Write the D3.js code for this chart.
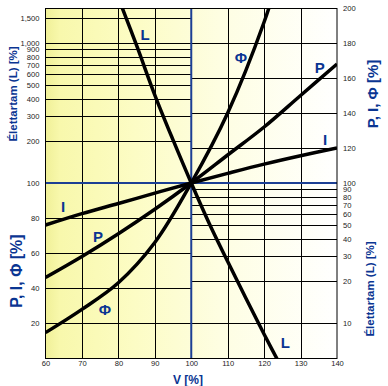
<!DOCTYPE html>
<html>
<head>
<meta charset="utf-8">
<script src="https://cdn.jsdelivr.net/npm/d3@7"></script>
<style>
  body { margin: 0; background: #fff; }
  svg { display: block; }
  .tick text { font-family: "Liberation Sans", Arial, sans-serif; font-size: 7.6px; fill: #222; }
  .ttl { font-family: "Liberation Sans", Arial, sans-serif; font-weight: bold; fill: #0a3592; }
</style>
</head>
<body>
<div id="chart"></div>
<script>
// voltage in percent
var volts = [60, 70, 80, 90, 100, 110, 120, 130, 140];
var current = [76, 82.5, 88.3, 94.2, 100, 105.5, 110.8, 115.6, 120];   // I
var power = [46, 58, 71, 85, 100, 116, 132, 150, 168];                 // P
var fluxVolts = [60, 70, 80, 90, 100, 110, 120, 125];
var flux = [14.5, 27.8, 43, 66, 100, 140, 192, 225];                   // Phi
var lifeVolts = [78, 80, 85, 90, 95, 100, 105, 110, 115, 120, 125];
var life = [2900, 2100, 960, 425, 203, 100, 51, 27.5, 15, 8.3, 4.7];   // L

var xTicks = [60, 70, 80, 90, 100, 110, 120, 130, 140];
var leftLogTicks = [100, 200, 300, 400, 500, 600, 700, 800, 900, 1000, 1500];
var leftLinTicks = [20, 40, 60, 80];
var rightLinTicks = [100, 120, 140, 160, 180, 200];
var rightLogTicks = [10, 20, 30, 40, 50, 60, 70, 80, 90];

// curve label anchors [V, P/I/Phi scale value, text]
var curveLabels = [
  [87.3, 184.6, "L"], [125.8, 8.6, "L"],
  [113.6, 171.4, "Φ"], [76.3, 27.4, "Φ"],
  [135.3, 165.7, "P"], [74.4, 69.1, "P"],
  [136.7, 124.6, "I"], [64.8, 86.3, "I"]
];

var W = 388, H = 386;
var pLeft = 45.5, pRight = 337, pTop = 8, pBottom = 358;
var blue = "#1c3f94";

var svg = d3.select("#chart").append("svg")
  .attr("width", W).attr("height", H);

var x = d3.scaleLinear().domain([60, 140]).range([pLeft, pRight]);
var yLin = d3.scaleLinear().domain([0, 200]).range([pBottom, pTop]);
var yLog = d3.scaleLog().domain([Math.pow(10, 0.75), Math.pow(10, 3.25)]).range([pBottom, pTop]);

// background gradient
var defs = svg.append("defs");
var grad = defs.append("linearGradient").attr("id", "bg")
  .attr("x1", "0").attr("x2", "1").attr("y1", "0").attr("y2", "0");
grad.append("stop").attr("offset", "0").attr("stop-color", "#f0f098");
grad.append("stop").attr("offset", "0.05").attr("stop-color", "#f8f8ac");
grad.append("stop").attr("offset", "0.3").attr("stop-color", "#fcfcc4");
grad.append("stop").attr("offset", "0.6").attr("stop-color", "#fefee2");
grad.append("stop").attr("offset", "1").attr("stop-color", "#ffffff");
defs.append("clipPath").attr("id", "clip").append("rect")
  .attr("x", pLeft).attr("y", pTop).attr("width", pRight - pLeft).attr("height", pBottom - pTop);

svg.append("rect").attr("x", pLeft).attr("y", pTop)
  .attr("width", pRight - pLeft).attr("height", pBottom - pTop)
  .attr("fill", "url(#bg)");

var grid = svg.append("g").attr("stroke", "#000").attr("stroke-width", 1);
// vertical grid
grid.selectAll(".vx").data(xTicks.filter(function(d) { return d != 60 && d != 100 && d != 140; }))
  .enter().append("line")
  .attr("x1", function(d) { return Math.round(x(d)) + 0.5; })
  .attr("x2", function(d) { return Math.round(x(d)) + 0.5; })
  .attr("y1", pTop).attr("y2", pBottom);
// upper-left: log L lines
grid.selectAll(".ul").data(leftLogTicks.filter(function(d) { return d != 100; }))
  .enter().append("line")
  .attr("x1", pLeft).attr("x2", x(100))
  .attr("y1", function(d) { return Math.round(yLog(d)) + 0.5; })
  .attr("y2", function(d) { return Math.round(yLog(d)) + 0.5; });
// lower-left: linear
grid.selectAll(".ll").data(leftLinTicks)
  .enter().append("line")
  .attr("x1", pLeft).attr("x2", x(100))
  .attr("y1", function(d) { return Math.round(yLin(d)) + 0.5; })
  .attr("y2", function(d) { return Math.round(yLin(d)) + 0.5; });
// upper-right: linear
grid.selectAll(".ur").data(rightLinTicks.filter(function(d) { return d != 100 && d != 200; }))
  .enter().append("line")
  .attr("x1", x(100)).attr("x2", pRight)
  .attr("y1", function(d) { return Math.round(yLin(d)) + 0.5; })
  .attr("y2", function(d) { return Math.round(yLin(d)) + 0.5; });
// lower-right: log
grid.selectAll(".lr").data(rightLogTicks)
  .enter().append("line")
  .attr("x1", x(100)).attr("x2", pRight)
  .attr("y1", function(d) { return Math.round(yLog(d)) + 0.5; })
  .attr("y2", function(d) { return Math.round(yLog(d)) + 0.5; });

// blue reference lines
svg.append("line").attr("x1", x(100)).attr("x2", x(100)).attr("y1", pTop).attr("y2", pBottom)
  .attr("stroke", blue).attr("stroke-width", 2);
svg.append("line").attr("x1", pLeft).attr("x2", pRight).attr("y1", yLin(100)).attr("y2", yLin(100))
  .attr("stroke", blue).attr("stroke-width", 2);

// frame
svg.append("rect").attr("x", pLeft).attr("y", pTop + 0.5)
  .attr("width", pRight - pLeft).attr("height", pBottom - pTop)
  .attr("fill", "none").attr("stroke", "#000").attr("stroke-width", 1);

// curves
var curves = svg.append("g").attr("clip-path", "url(#clip)");
function linLine(xs) {
  return d3.line()
    .x(function(d, i) { return x(xs[i]); })
    .y(function(d) { return yLin(d); })
    .curve(d3.curveCatmullRom);
}
var lifeLine = d3.line()
  .x(function(d, i) { return x(lifeVolts[i]); })
  .y(function(d) { return yLog(d); })
  .curve(d3.curveCatmullRom);

[[current, volts], [power, volts], [flux, fluxVolts]].forEach(function(s) {
  curves.append("path").datum(s[0])
    .attr("fill", "none").attr("stroke", "#000").attr("stroke-width", 3.5)
    .attr("d", linLine(s[1]));
});
curves.append("path").datum(life)
  .attr("fill", "none").attr("stroke", "#000").attr("stroke-width", 3.5)
  .attr("d", lifeLine);

// curve labels
svg.selectAll(".cl").data(curveLabels).enter().append("text")
  .attr("class", "ttl")
  .attr("x", function(d) { return x(d[0]); })
  .attr("y", function(d) { return yLin(d[1]); })
  .attr("dy", "0.36em")
  .attr("text-anchor", "middle")
  .style("font-size", "15px")
  .text(function(d) { return d[2]; });

// axes
function clean(g) { g.select(".domain").remove(); }
svg.append("g").attr("transform", "translate(0," + pBottom + ")")
  .call(d3.axisBottom(x).tickValues(xTicks).tickSize(0).tickPadding(3).tickFormat(d3.format("d")))
  .call(clean);
svg.append("g").attr("transform", "translate(" + pLeft + ",0)")
  .call(d3.axisLeft(yLog).tickValues(leftLogTicks).tickSize(0).tickPadding(6).tickFormat(d3.format(",")))
  .call(clean);
svg.append("g").attr("transform", "translate(" + pLeft + ",0)")
  .call(d3.axisLeft(yLin).tickValues(leftLinTicks).tickSize(0).tickPadding(6).tickFormat(d3.format("d")))
  .call(clean);
svg.append("g").attr("transform", "translate(" + pRight + ",0)")
  .call(d3.axisRight(yLin).tickValues(rightLinTicks).tickSize(0).tickPadding(6).tickFormat(d3.format("d")))
  .call(clean);
svg.append("g").attr("transform", "translate(" + pRight + ",0)")
  .call(d3.axisRight(yLog).tickValues(rightLogTicks).tickSize(0).tickPadding(6).tickFormat(d3.format("d")))
  .call(clean);

// axis titles
function vtitle(cx, cy, size, txt) {
  svg.append("text").attr("class", "ttl")
    .attr("transform", "translate(" + cx + "," + cy + ") rotate(-90)")
    .attr("text-anchor", "middle").attr("dy", "0.36em")
    .style("font-size", size + "px").text(txt);
}
vtitle(13, 94, 11.5, "Élettartam (L) [%]");
vtitle(16, 271, 16, "P, I, Φ [%]");
vtitle(373, 94, 15, "P, I, Φ [%]");
vtitle(370, 289, 11.5, "Élettartam (L) [%]");

svg.append("text").attr("class", "ttl")
  .attr("x", 188).attr("y", 384).attr("text-anchor", "middle")
  .style("font-size", "12px").text("V [%]");
</script>
</body>
</html>
